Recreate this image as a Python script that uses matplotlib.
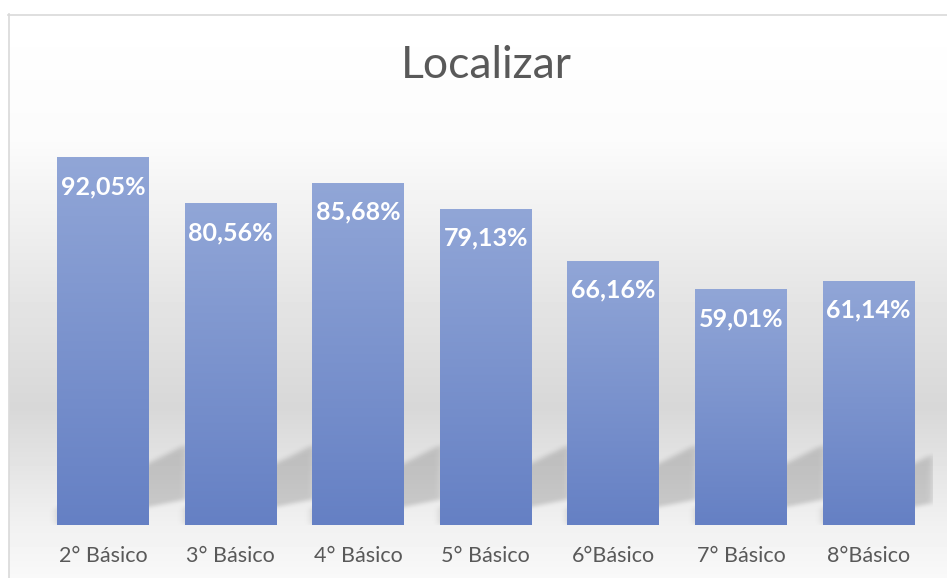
import numpy as np
import matplotlib
matplotlib.use('Agg')
from matplotlib import pyplot as plt
from matplotlib.colors import LinearSegmentedColormap
from matplotlib.patches import Rectangle

categorias = ['2° Básico', '3° Básico', '4° Básico', '5° Básico', '6°Básico', '7° Básico', '8°Básico']
valores = [92.05, 80.56, 85.68, 79.13, 66.16, 59.01, 61.14]
etiquetas = ['92,05%', '80,56%', '85,68%', '79,13%', '66,16%', '59,01%', '61,14%']
titulo = 'Localizar'

ancho = 0.72
gris_texto = '#595959'

fig = plt.figure(figsize=(9.47, 5.78), dpi=100)

# fondo con degradado (estilo excel)
fondo = fig.add_axes([0, 0, 1, 1])
fondo.set_xlim(0, 947)
fondo.set_ylim(578, 0)
fondo.axis('off')
ys = np.array([0, 14, 140, 300, 407, 525, 578])
gs = np.array([1.0, 1.0, 0.985, 0.895, 0.845, 0.945, 0.975])
col = np.interp(np.arange(578), ys, gs)
img = np.repeat(col[:, None], 2, axis=1)
fondo.imshow(img, cmap='gray', vmin=0, vmax=1, extent=[0, 947, 578, 0], aspect='auto')
fondo.add_patch(Rectangle((0, 0), 947, 14, color='white', zorder=2))
fondo.add_patch(Rectangle((0, 0), 8, 578, color='white', zorder=2))
fondo.plot([8, 947], [14.5, 14.5], color='#d9d9d9', lw=1.2, zorder=3)
fondo.plot([8.5, 8.5], [14, 578], color='#d9d9d9', lw=1.2, zorder=3)

ax = fig.add_axes([0.0414, 0.0917, 0.9432, 0.6903])
ax.patch.set_alpha(0)
ax.set_xlim(-0.5, 6.5)
ax.set_ylim(0, 100)
x = np.arange(len(valores))

# sombra de perspectiva detras de las barras
sx = np.linspace(-0.5, 6.5, 900)
sy = np.linspace(0, 30, 120)
XX, YY = np.meshgrid(sx, sy)
mask = np.zeros_like(XX)
for i, v in zip(x, valores):
    r = i + ancho / 2
    top = 15.5 + 16 * (XX - r)
    low = 4.5 + 6.4 * (XX - r)
    dentro = (XX > i - ancho / 2) & (XX < r + 0.3) & (YY < top) & (YY > low) & (YY < v)
    mask[dentro] = 1.0
k = np.exp(-0.5 * (np.arange(-12, 13) / 4.0) ** 2)
k /= k.sum()
for j in range(mask.shape[0]):
    mask[j] = np.convolve(mask[j], k, mode='same')
k2 = np.exp(-0.5 * (np.arange(-6, 7) / 2.0) ** 2)
k2 /= k2.sum()
for j in range(mask.shape[1]):
    mask[:, j] = np.convolve(mask[:, j], k2, mode='same')
sombra = np.zeros(mask.shape + (4,))
sombra[..., 3] = mask * 0.16
ax.imshow(sombra, extent=[-0.5, 6.5, 0, 30], origin='lower', aspect='auto', zorder=1)

# barras con degradado vertical
cmap = LinearSegmentedColormap.from_list('barra', ['#6580c4', '#91a6d7'])
grad = np.linspace(0, 1, 256)[:, None]
for i, v, lab in zip(x, valores, etiquetas):
    ax.imshow(grad, cmap=cmap, extent=[i - ancho / 2, i + ancho / 2, 0, v],
              origin='lower', aspect='auto', zorder=2)
    ax.text(i, v - 7.3, lab, ha='center', va='center', color='white',
            fontsize=18, fontweight='bold', family='Lato', zorder=3)

ax.set_xlim(-0.5, 6.5)
ax.set_ylim(0, 100)
ax.set_xticks(x)
ax.set_xticklabels(categorias, fontsize=15.5, color=gris_texto, family='Lato')
ax.tick_params(axis='x', length=0, pad=15)
ax.set_yticks([])
for s in ax.spines.values():
    s.set_visible(False)

fig.text(486 / 947, 1 - 66 / 578, titulo, ha='center', va='center', fontsize=32,
         color=gris_texto, family='Lato')

fig.savefig('out.png', dpi=100)
